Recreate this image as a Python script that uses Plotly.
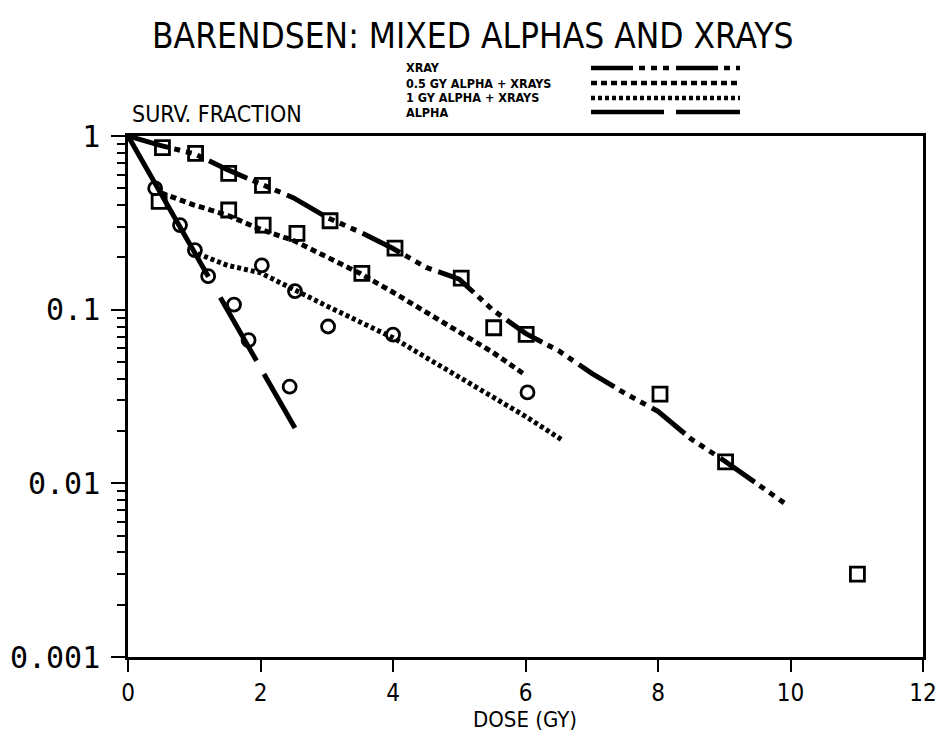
import plotly.graph_objects as go

# ---- data ----
xray_pts_x = [0.52, 1.02, 1.52, 2.03, 3.05, 4.03, 5.03, 6.01, 8.03, 9.02, 11.01]
xray_pts_y = [0.857, 0.795, 0.61, 0.52, 0.325, 0.226, 0.152, 0.072, 0.0326, 0.0133, 0.0030]
xray_line_x = [0.0, 0.5, 1.0, 1.5, 2.0, 2.5, 3.0, 3.5, 4.0, 4.5, 5.0, 5.5, 6.0, 6.5, 7.0, 7.5, 8.0, 8.5, 9.0, 9.5, 9.95]
xray_line_y = [1.0, 0.88, 0.79, 0.64, 0.53, 0.44, 0.34, 0.28, 0.225, 0.175, 0.150, 0.10, 0.073, 0.058, 0.043, 0.033, 0.026, 0.018, 0.0135, 0.010, 0.0075]

half_pts_x = [0.47, 1.52, 2.04, 2.55, 3.53, 5.52]
half_pts_y = [0.42, 0.375, 0.307, 0.275, 0.162, 0.0787]
half_line_x = [0.5, 1.0, 1.5, 2.0, 2.5, 3.0, 3.5, 4.0, 4.5, 5.0, 5.5, 6.0]
half_line_y = [0.47, 0.40, 0.35, 0.29, 0.25, 0.20, 0.162, 0.126, 0.097, 0.075, 0.057, 0.042]

one_pts_x = [2.02, 2.52, 3.02, 4.0, 6.03]
one_pts_y = [0.18, 0.128, 0.080, 0.0718, 0.0334]
one_line_x = [1.05, 1.5, 2.0, 2.5, 3.0, 3.5, 4.0, 4.5, 5.0, 5.5, 6.0, 6.55]
one_line_y = [0.21, 0.18, 0.163, 0.13, 0.105, 0.085, 0.069, 0.053, 0.041, 0.032, 0.0243, 0.0178]

alpha_pts_x = [0.41, 0.785, 1.01, 1.21, 1.6, 1.82, 2.44]
alpha_pts_y = [0.50, 0.307, 0.22, 0.156, 0.107, 0.0667, 0.036]
alpha_line_x = [0.0, 2.52]
alpha_line_y = [1.0, 0.0208]

x_ticks = [0, 2, 4, 6, 8, 10, 12]
y_ticks = [0.001, 0.01, 0.1, 1]
y_tick_labels = ["0.001", "0.01", "0.1", "1"]
y_minor = [m * 10 ** e for e in (-3, -2, -1) for m in range(2, 10)]

legend_names = ["XRAY", "0.5 GY ALPHA + XRAYS", "1 GY ALPHA + XRAYS", "ALPHA"]

# ---- styles ----
XRAY_DASH = "42px,6px,6px,6px,6px,6px,6px,7px"
HALF_DASH = "6px,4px"
ONE_DASH = "4px,3px"
ALPHA_DASH = "162px,24px,73px,15px,66px"
COND = "Liberation Sans Narrow, DejaVu Sans Condensed, Arial Narrow, sans-serif"

W, H = 936, 743
L, R, T, B = 128, 13, 136, 86
pw, ph = W - L - R, H - T - B

def fx(px):  # page pixel -> paper x
    return (px - L) / pw

def fy(py):  # page pixel -> paper y
    return 1 - (py - T) / ph

fig = go.Figure()

def line(x, y, dash, name):
    fig.add_trace(go.Scatter(x=x, y=y, mode="lines", name=name,
                             line=dict(color="black", width=5, dash=dash),
                             showlegend=False, hoverinfo="skip"))

def pts(x, y, symbol, size):
    fig.add_trace(go.Scatter(x=x, y=y, mode="markers",
                             marker=dict(symbol=symbol, size=size, color="black",
                                         line=dict(color="black", width=2.8)),
                             showlegend=False))

line(xray_line_x, xray_line_y, XRAY_DASH, legend_names[0])
line(half_line_x, half_line_y, HALF_DASH, legend_names[1])
line(one_line_x, one_line_y, ONE_DASH, legend_names[2])
line(alpha_line_x, alpha_line_y, ALPHA_DASH, legend_names[3])

pts(xray_pts_x, xray_pts_y, "square-open", 14)
pts(half_pts_x, half_pts_y, "square-open", 14)
pts(one_pts_x, one_pts_y, "circle-open", 13)
pts(alpha_pts_x, alpha_pts_y, "circle-open", 13)

# ---- manual legend (text + line samples) ----
leg_py = [68, 83, 98, 112]
leg_dash = [XRAY_DASH, HALF_DASH, ONE_DASH, "73px,12px,65px"]
annotations = []
shapes = []
for name, py, d in zip(legend_names, leg_py, leg_dash):
    annotations.append(dict(x=fx(404), y=fy(py), xref="paper", yref="paper", yanchor="middle",
                            xanchor="left", text=name, showarrow=False,
                            font=dict(family="DejaVu Sans Condensed, sans-serif", size=12.5,
                                      color="black", weight="bold")))
    shapes.append(dict(type="line", xref="paper", yref="paper", layer="above",
                       x0=fx(591), x1=fx(740), y0=fy(py), y1=fy(py),
                       line=dict(color="black", width=4.5, dash=d)))

annotations.append(dict(x=fx(130), y=fy(114), xref="paper", yref="paper", xanchor="left",
                        yanchor="middle", text="SURV. FRACTION", showarrow=False,
                        font=dict(family=COND, size=23, color="black")))
annotations.append(dict(x=fx(525), y=fy(719), xref="paper", yref="paper", xanchor="center",
                        yanchor="middle", text="DOSE (GY)", showarrow=False,
                        font=dict(family=COND, size=22, color="black")))
annotations.append(dict(x=fx(473), y=fy(36), xref="paper", yref="paper", xanchor="center",
                        yanchor="middle", text="BARENDSEN: MIXED ALPHAS AND XRAYS", showarrow=False,
                        font=dict(family=COND, size=35, color="black")))

fig.update_layout(
    width=W, height=H,
    margin=dict(l=L, r=R, t=T, b=B, autoexpand=False),
    paper_bgcolor="white", plot_bgcolor="white",
    annotations=annotations, shapes=shapes,
    xaxis=dict(range=[0, 12], tickvals=x_ticks, ticktext=[str(v) for v in x_ticks],
               showline=True, linewidth=2.5, linecolor="black", mirror=True,
               ticks="outside", ticklen=12, tickwidth=2, tickcolor="black",
               showgrid=False, zeroline=False, automargin=False,
               ticklabeloverflow="allow",
               tickfont=dict(family=COND, size=24, color="black")),
    yaxis=dict(type="log", range=[-3, 0], tickvals=y_ticks, ticktext=y_tick_labels,
               showline=True, linewidth=2.5, linecolor="black", mirror=True,
               ticks="outside", ticklen=14, tickwidth=2, tickcolor="black",
               showgrid=False, zeroline=False, ticklabelstandoff=5, automargin=False,
               ticklabeloverflow="allow",
               tickfont=dict(family="DejaVu Sans Mono, monospace", size=30, color="black"),
               minor=dict(tickvals=y_minor, ticks="outside", ticklen=8, tickwidth=2,
                          tickcolor="black", showgrid=False)),
)

fig.write_html("out.html", config={"displayModeBar": False})

# remove the browser's default page margin so the figure sits at the window origin
with open("out.html", encoding="utf-8") as f:
    html = f.read()
html = html.replace("<head>", "<head><style>html,body{margin:0;padding:0;overflow:hidden}</style>", 1)
with open("out.html", "w", encoding="utf-8") as f:
    f.write(html)
